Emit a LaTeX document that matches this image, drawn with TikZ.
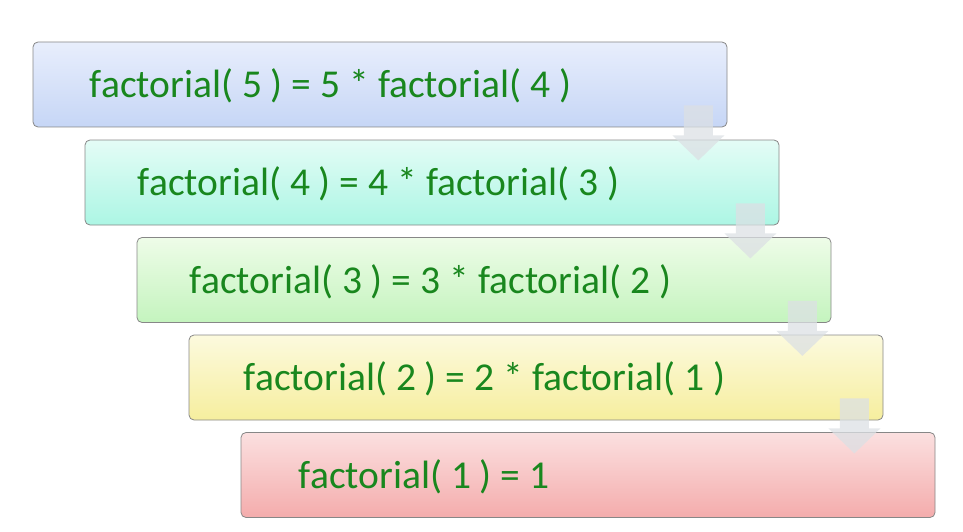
\documentclass[tikz,border=0pt]{standalone}
\usepackage{fontspec}
\setmainfont{Carlito}
\usetikzlibrary{positioning,calc}

\definecolor{txtgreen}{RGB}{25,135,30}
\definecolor{edgegray}{RGB}{135,135,135}
\definecolor{arrowgray}{RGB}{220,224,228}

\begin{document}
\begin{tikzpicture}[x=1pt, y=-1pt]
  % styles
  \tikzstyle{stepbox}=[rectangle, draw=edgegray, line width=0.8pt, rounded corners=5pt, minimum width=694pt, minimum height=85pt, inner sep=0pt];
  \tikzstyle{label}=[anchor=base west, inner sep=0pt, text=txtgreen, font=\fontsize{39.5}{46}\selectfont];
  \tikzstyle{down}=[fill=arrowgray, opacity=0.75];

  \useasboundingbox (0,0) rectangle (963,532);

  %==================== BOXES ====================
  \node[stepbox, top color={rgb,255:red,232;green,238;blue,252}, bottom color={rgb,255:red,198;green,214;blue,246}] (f5) at (380,84.5) {};
  \node[stepbox, top color={rgb,255:red,228;green,252;blue,246}, bottom color={rgb,255:red,172;green,246;blue,228}] (f4) at ($(f5)+(52,98)$) {};
  \node[stepbox, top color={rgb,255:red,238;green,252;blue,232}, bottom color={rgb,255:red,196;green,244;blue,190}] (f3) at ($(f4)+(52,97.5)$) {};
  \node[stepbox, top color={rgb,255:red,252;green,250;blue,222}, bottom color={rgb,255:red,246;green,238;blue,158}] (f2) at ($(f3)+(52,97.5)$) {};
  \node[stepbox, top color={rgb,255:red,251;green,224;blue,224}, bottom color={rgb,255:red,244;green,172;blue,172}] (f1) at ($(f2)+(52,97.5)$) {};

  % texts
  \node[label] (t5) at ($(f5.west)+(57,13)$) {factorial( 5 ) = 5 * factorial( 4 )};
  \node[label] (t4) at ($(f4.west)+(53,13)$) {factorial( 4 ) = 4 * factorial( 3 )};
  \node[label] (t3) at ($(f3.west)+(53,13)$) {factorial( 3 ) = 3 * factorial( 2 )};
  \node[label] (t2) at ($(f2.west)+(55,13)$) {factorial( 2 ) = 2 * factorial( 1 )};
  \node[label] (t1) at ($(f1.west)+(58,13)$) {factorial( 1 ) = 1};

  %==================== ARROWS ====================
  \coordinate (a54) at ($(f5.south east)+(-29,33)$);
  \coordinate (a43) at ($(f4.south east)+(-29,33)$);
  \coordinate (a32) at ($(f3.south east)+(-29,33)$);
  \coordinate (a21) at ($(f2.south east)+(-29,33)$);
  \fill[down] (a54) -- ++(-26,-25) -- ++(11.5,0) -- ++(0,-30) -- ++(29,0) -- ++(0,30) -- ++(11.5,0) -- cycle;
  \fill[down] (a43) -- ++(-26,-25) -- ++(11.5,0) -- ++(0,-30) -- ++(29,0) -- ++(0,30) -- ++(11.5,0) -- cycle;
  \fill[down] (a32) -- ++(-26,-25) -- ++(11.5,0) -- ++(0,-30) -- ++(29,0) -- ++(0,30) -- ++(11.5,0) -- cycle;
  \fill[down] (a21) -- ++(-26,-25) -- ++(11.5,0) -- ++(0,-30) -- ++(29,0) -- ++(0,30) -- ++(11.5,0) -- cycle;
\end{tikzpicture}
\end{document}
